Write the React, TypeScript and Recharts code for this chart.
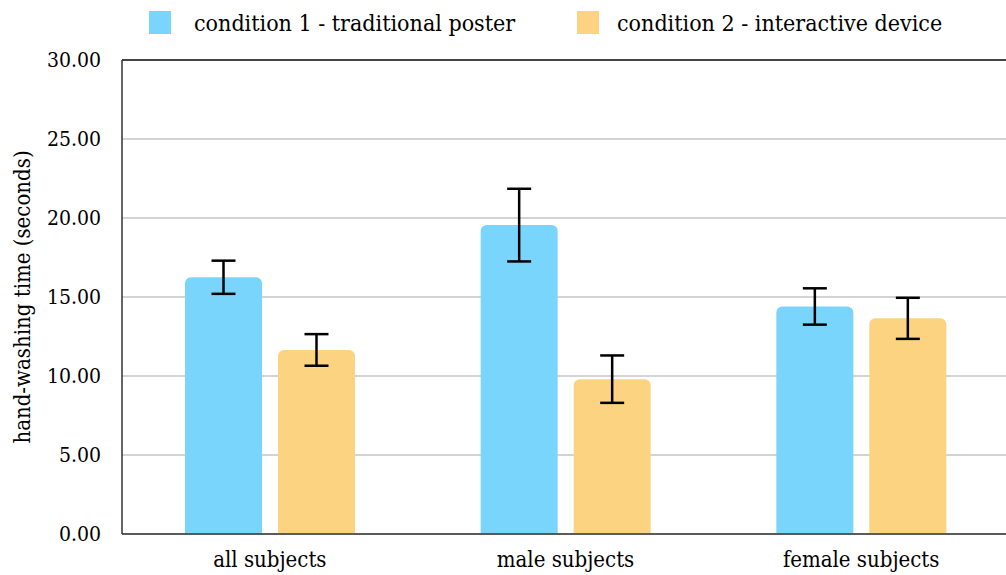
import React from 'react';
import {
  BarChart,
  Bar,
  XAxis,
  YAxis,
  CartesianGrid,
  Legend,
  ErrorBar,
  ReferenceLine,
} from 'recharts';

const categories = ['all subjects', 'male subjects', 'female subjects'];
const posterMeans = [16.25, 19.55, 14.4];
const posterErrors = [1.05, 2.3, 1.15];
const deviceMeans = [11.65, 9.8, 13.65];
const deviceErrors = [1.0, 1.5, 1.3];
const yTicks = [0, 5, 10, 15, 20, 25, 30];

const seriesNames = ['condition 1 - traditional poster', 'condition 2 - interactive device'];
const BLUE = '#7AD5FD';
const ORANGE = '#FCD380';
const FONT = "'DejaVu Serif Condensed', 'DejaVu Serif', serif";
const textStyle = { fontFamily: FONT, fontStretch: 'condensed' as const };

const chartData = categories.map((name, i) => ({
  name,
  poster: posterMeans[i],
  posterErr: posterErrors[i],
  device: deviceMeans[i],
  deviceErr: deviceErrors[i],
}));

const LegendContent = () => (
  <div style={{ position: 'relative', height: 46, fontSize: 23, color: '#000', whiteSpace: 'nowrap', ...textStyle }}>
    <span style={{ position: 'absolute', left: 149, top: 11, width: 22, height: 23, background: BLUE }} />
    <span style={{ position: 'absolute', left: 194, top: 9, lineHeight: '28px' }}>{seriesNames[0]}</span>
    <span style={{ position: 'absolute', left: 577, top: 11, width: 22, height: 23, background: ORANGE }} />
    <span style={{ position: 'absolute', left: 617, top: 9, lineHeight: '28px' }}>{seriesNames[1]}</span>
  </div>
);

export default function App() {
  return (
    <div
      style={{
        position: 'fixed',
        left: 0,
        top: 0,
        width: 1006,
        height: 575,
        overflow: 'hidden',
        background: '#fff',
        ...textStyle,
      }}
    >
      <BarChart
        width={1010}
        height={575}
        data={chartData}
        margin={{ top: 0, right: 1, left: 0, bottom: 0 }}
        barSize={77}
        barGap={16}
        style={textStyle}
      >
        <Legend
          verticalAlign="top"
          height={60}
          content={<LegendContent />}
          wrapperStyle={{ top: 0, left: 0, width: 1010 }}
        />
        <CartesianGrid vertical={false} stroke="#c6c6c6" strokeWidth={1.5} />
        <XAxis
          dataKey="name"
          height={41}
          tickLine={false}
          tickSize={0}
          tickMargin={17}
          stroke="#333"
          strokeWidth={1.5}
          tick={{ fill: '#000', fontSize: 22, style: textStyle }}
        />
        <YAxis
          width={122}
          domain={[0, 30]}
          ticks={yTicks}
          interval={0}
          tickFormatter={(v: number) => v.toFixed(2)}
          tickLine={false}
          tickSize={0}
          tickMargin={21}
          stroke="#333"
          strokeWidth={1.5}
          tick={{ fill: '#000', fontSize: 21, style: textStyle }}
          label={{
            value: 'hand-washing time (seconds)',
            angle: -90,
            position: 'insideLeft',
            offset: 22,
            style: { textAnchor: 'middle', fill: '#000', fontSize: 22, ...textStyle },
          }}
        />
        <ReferenceLine y={30} stroke="#444" strokeWidth={2} />
        <Bar dataKey="poster" name={seriesNames[0]} fill={BLUE} radius={[6, 6, 0, 0]} isAnimationActive={false}>
          <ErrorBar dataKey="posterErr" width={12} stroke="#000" strokeWidth={2.5} />
        </Bar>
        <Bar dataKey="device" name={seriesNames[1]} fill={ORANGE} radius={[6, 6, 0, 0]} isAnimationActive={false}>
          <ErrorBar dataKey="deviceErr" width={12} stroke="#000" strokeWidth={2.5} />
        </Bar>
      </BarChart>
    </div>
  );
}
